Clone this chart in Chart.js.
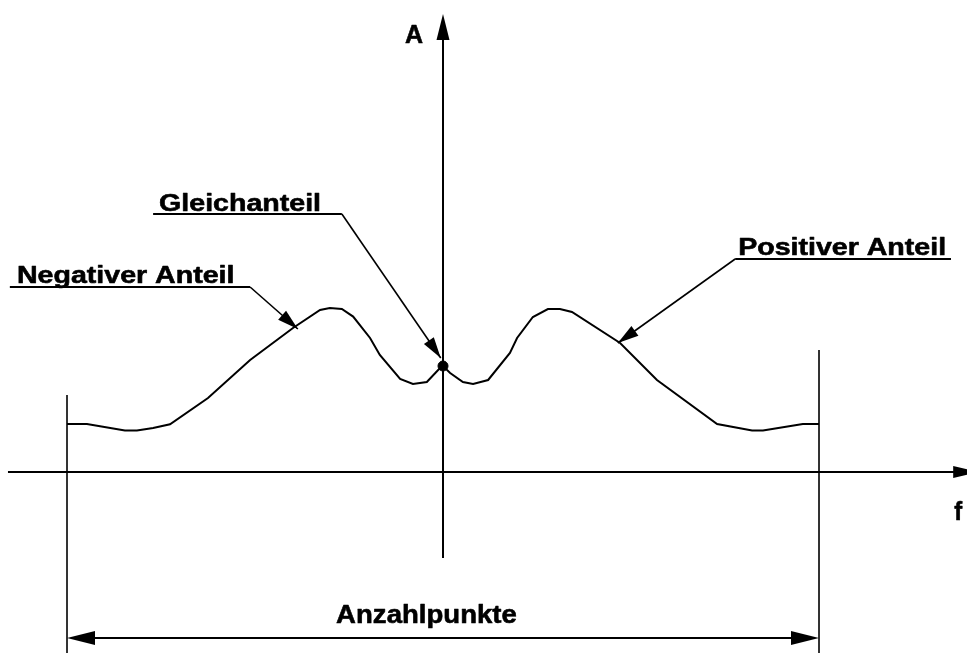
<!DOCTYPE html>
<html>
<head>
<meta charset="utf-8">
<script src="https://cdn.jsdelivr.net/npm/chart.js@4"></script>
<style>
html,body{margin:0;padding:0;background:#fff;}
#wrap{position:relative;width:967px;height:653px;}
</style>
</head>
<body>
<div id="wrap"><canvas id="c"></canvas></div>
<script>
// ---- data (frequency index relative to centre, amplitude) ----
const freq = [-100, -94.7, -84.6, -81.4, -77.1, -72.6, -62.5, -51.3, -39.9, -32.7, -30.1, -26.9, -23.9, -19.4, -16.8, -11.4, -8.0, -4.3, -1.3, 0,
              1.9, 5.3, 8.0, 12.0, 17.8, 19.7, 23.9, 27.9, 31.1, 34.3, 47.1, 56.9, 72.9, 82.2, 85.1, 95.7, 100];
const amplitude = [24, 24, 20.7, 20.7, 22, 23.9, 37, 56, 72, 81, 82, 81.5, 77.7, 67, 58.5, 46.5, 44, 45, 51, 53,
                   49.5, 45, 44, 46, 59.5, 67, 77.5, 81.5, 81.5, 80, 64.5, 46, 24, 20.7, 20.7, 24, 24];
const dcPoint = [0, 53];
const pointRange = [-100, 100];
const axisLabels = ["A", "f"];
const calloutLabels = ["Gleichanteil", "Negativer Anteil", "Positiver Anteil"];
const spanLabel = "Anzahlpunkte";

const curve = freq.map((f, i) => ({x: f, y: amplitude[i]}));

function arrowHead(ctx, x1, y1, x2, y2, len, half) {
  const a = Math.atan2(y2 - y1, x2 - x1);
  const bx = x2 - len * Math.cos(a), by = y2 - len * Math.sin(a);
  ctx.beginPath();
  ctx.moveTo(x2, y2);
  ctx.lineTo(bx + half * Math.sin(a), by - half * Math.cos(a));
  ctx.lineTo(bx - half * Math.sin(a), by + half * Math.cos(a));
  ctx.closePath();
  ctx.fill();
}
function line(ctx, x1, y1, x2, y2, w) {
  ctx.lineWidth = w;
  ctx.beginPath(); ctx.moveTo(x1, y1); ctx.lineTo(x2, y2); ctx.stroke();
}
function stretchedText(ctx, txt, x, y, size, sx, align) {
  ctx.save();
  ctx.font = "bold " + size + "px 'Liberation Sans', Arial, sans-serif";
  const w = ctx.measureText(txt).width * sx;
  let left = x;
  if (align === "center") left = x - w / 2;
  ctx.translate(left, y);
  ctx.scale(sx, 1);
  ctx.textBaseline = "alphabetic";
  ctx.textAlign = "left";
  ctx.lineWidth = 0.6;
  ctx.lineJoin = "round";
  ctx.fillText(txt, 0, 0);
  ctx.strokeText(txt, 0, 0);
  ctx.restore();
}

const diagram = {
  id: "diagram",
  afterDatasetsDraw(chart) {
    const ctx = chart.ctx;
    const X = v => chart.scales.x.getPixelForValue(v);
    const Y = v => chart.scales.y.getPixelForValue(v);
    ctx.save();
    ctx.strokeStyle = "#000";
    ctx.fillStyle = "#000";
    ctx.lineCap = "butt";

    // axes
    line(ctx, X(0), Y(-43), X(0), Y(229) + 20, 2);
    arrowHead(ctx, X(0), Y(0), X(0), Y(229), 26, 6.5);
    line(ctx, X(-115.7), Y(0), X(142.6) - 20, Y(0), 2);
    arrowHead(ctx, X(0), Y(0), X(142.6), Y(0), 26, 6);

    // range boundaries
    const yb = chart.scales.y.min;
    line(ctx, X(pointRange[0]), Y(38.5), X(pointRange[0]), Y(yb), 1.6);
    line(ctx, X(pointRange[1]), Y(61), X(pointRange[1]), Y(yb), 1.6);

    // dimension line
    line(ctx, X(pointRange[0]) + 20, Y(-83), X(pointRange[1]) - 20, Y(-83), 2);
    arrowHead(ctx, X(pointRange[1]), Y(-83), X(pointRange[0]), Y(-83), 28, 7);
    arrowHead(ctx, X(pointRange[0]), Y(-83), X(pointRange[1]), Y(-83), 28, 7);

    // axis labels
    stretchedText(ctx, axisLabels[0], X(-10.1), Y(214.5), 25, 1.0, "left");
    stretchedText(ctx, axisLabels[1], X(136.0), Y(-24), 25, 0.95, "left");
    stretchedText(ctx, spanLabel, X(-4.4), Y(-75.5), 26, 1.06, "center");

    // callouts: text, underline, leader, arrow
    const callouts = [
      {t: calloutLabels[0], tx: -75.5, ty: 130.5, u0: -77.1, u1: -26.9, uy: 129, ex: -0.6, ey: 57},
      {t: calloutLabels[1], tx: -113.3, ty: 94.5, u0: -115.2, u1: -51.3, uy: 92.5, ex: -38.6, ey: 71.5},
      {t: calloutLabels[2], tx: 78.5, ty: 108.5, u0: 77.7, u1: 135.1, uy: 106.5, ex: 46.5, ey: 64.5, start: 0}
    ];
    callouts.forEach(c => {
      stretchedText(ctx, c.t, X(c.tx), Y(c.ty), 24, 1.19, "left");
      line(ctx, X(c.u0), Y(c.uy), X(c.u1), Y(c.uy), 2);
      const sx = c.start === 0 ? X(c.u0) : X(c.u1);
      const sy = Y(c.uy);
      line(ctx, sx, sy, X(c.ex), Y(c.ey), 1.6);
      arrowHead(ctx, sx, sy, X(c.ex), Y(c.ey), 21, 6);
    });
    ctx.restore();
  }
};

new Chart(document.getElementById("c"), {
  type: "scatter",
  data: {
    datasets: [
      {
        type: "line",
        data: curve,
        borderColor: "#000",
        borderWidth: 2,
        pointRadius: 0,
        tension: 0,
        fill: false
      },
      {
        data: [{x: dcPoint[0], y: dcPoint[1]}],
        backgroundColor: "#000",
        borderColor: "#000",
        pointRadius: 5,
        pointHoverRadius: 5
      }
    ]
  },
  options: {
    responsive: true,
    maintainAspectRatio: false,
    animation: false,
    events: [],
    layout: {padding: 0, autoPadding: false},
    plugins: {legend: {display: false}, tooltip: {enabled: false}, title: {display: false}},
    scales: {
      x: {type: "linear", min: -117.82, max: 139.36, display: false},
      y: {type: "linear", min: -90.5, max: 236, display: false}
    }
  },
  plugins: [diagram]
});
</script>
</body>
</html>
